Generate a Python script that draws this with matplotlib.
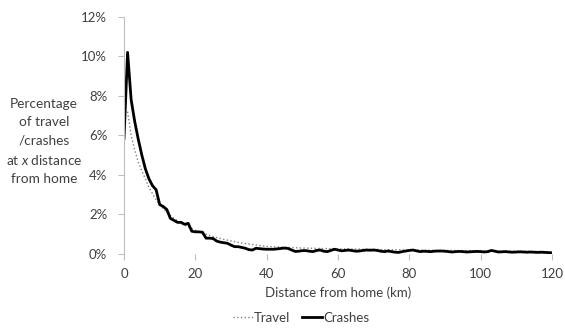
import numpy as np
import matplotlib.pyplot as plt
from matplotlib.ticker import PercentFormatter

plt.rcParams['font.family'] = ['Lato', 'DejaVu Sans']
plt.rcParams['mathtext.fontset'] = 'custom'
plt.rcParams['mathtext.it'] = 'Lato:italic'

# distance from home (km) and share of crashes (%)
crash_km = np.arange(0, 121)
crash_pct = [
    5.85, 10.2, 7.8, 6.7, 5.8, 5.0, 4.3, 3.8, 3.45, 3.25,
    2.5, 2.4, 2.25, 1.8, 1.7, 1.6, 1.6, 1.5, 1.55, 1.15,
    1.12, 1.12, 1.1, 0.8, 0.8, 0.78, 0.65, 0.6, 0.57, 0.54,
    0.45, 0.37, 0.37, 0.33, 0.29, 0.22, 0.2, 0.29, 0.27, 0.25,
    0.24, 0.24, 0.24, 0.26, 0.28, 0.3, 0.28, 0.2, 0.13, 0.14,
    0.17, 0.17, 0.14, 0.12, 0.18, 0.2, 0.14, 0.12, 0.18, 0.24,
    0.2, 0.16, 0.18, 0.2, 0.17, 0.14, 0.15, 0.18, 0.2, 0.19,
    0.2, 0.18, 0.14, 0.12, 0.15, 0.12, 0.09, 0.08, 0.12, 0.15,
    0.18, 0.2, 0.16, 0.12, 0.14, 0.13, 0.12, 0.14, 0.15, 0.15,
    0.14, 0.12, 0.1, 0.12, 0.13, 0.12, 0.1, 0.11, 0.12, 0.13,
    0.12, 0.1, 0.12, 0.18, 0.14, 0.1, 0.11, 0.12, 0.1, 0.09,
    0.1, 0.11, 0.1, 0.09, 0.1, 0.09, 0.08, 0.09, 0.08, 0.07,
    0.05,
]

# share of travel (%)
travel_km = [1, 2, 3, 4, 5, 6, 7, 8, 9, 10, 11, 12, 13, 14, 15, 16, 17, 18, 19, 20,
             22, 24, 26, 28, 30, 32, 34, 36, 38, 40, 45, 50, 55, 60, 70, 80, 90, 100, 110, 120]
travel_pct = [7.2, 6.0, 5.25, 4.65, 4.2, 3.8, 3.35, 3.05, 2.75, 2.5, 2.3, 2.1, 1.95, 1.8, 1.68,
              1.56, 1.46, 1.37, 1.28, 1.2, 1.06, 0.94, 0.83, 0.74, 0.66, 0.59, 0.53, 0.48,
              0.43, 0.38, 0.34, 0.3, 0.28, 0.26, 0.23, 0.2, 0.18, 0.16, 0.14, 0.12]

fig = plt.figure(figsize=(5.65, 3.29), dpi=100)
ax = fig.add_axes([0.2195, 0.228, 0.7575, 0.721])

ax.plot(travel_km, travel_pct, color='#808080', linestyle=':', linewidth=1.0, label='Travel')
ax.plot(crash_km, crash_pct, color='black', linewidth=2.0, label='Crashes')

ax.set_xlim(0, 120)
ax.set_ylim(0, 12)
ax.set_xticks(np.arange(0, 121, 20))
ax.set_yticks(np.arange(0, 13, 2))
ax.yaxis.set_major_formatter(PercentFormatter(decimals=0))

for side in ['top', 'right', 'bottom']:
    ax.spines[side].set_visible(False)
ax.spines['left'].set_color('#bfbfbf')
ax.tick_params(axis='both', colors='#bfbfbf', labelcolor='#404040', labelsize=9.5, length=4)
ax.tick_params(axis='y', pad=8)
ax.tick_params(axis='x', pad=6)

ax.set_xlabel('Distance from home (km)', fontsize=9.5, color='#404040', labelpad=5)
fig.text(0.078, 0.569, 'Percentage\nof travel\n/crashes\nat $x$ distance\nfrom home',
         ha='center', va='center', fontsize=9.8, color='#404040', linespacing=1.6)

fig.legend(loc='lower center', bbox_to_anchor=(0.533, -0.02), ncol=2, frameon=False,
           fontsize=9.5, handlelength=1.5, handletextpad=0.1, columnspacing=0.9,
           labelcolor='#404040')

fig.savefig('out.png', dpi=100)
